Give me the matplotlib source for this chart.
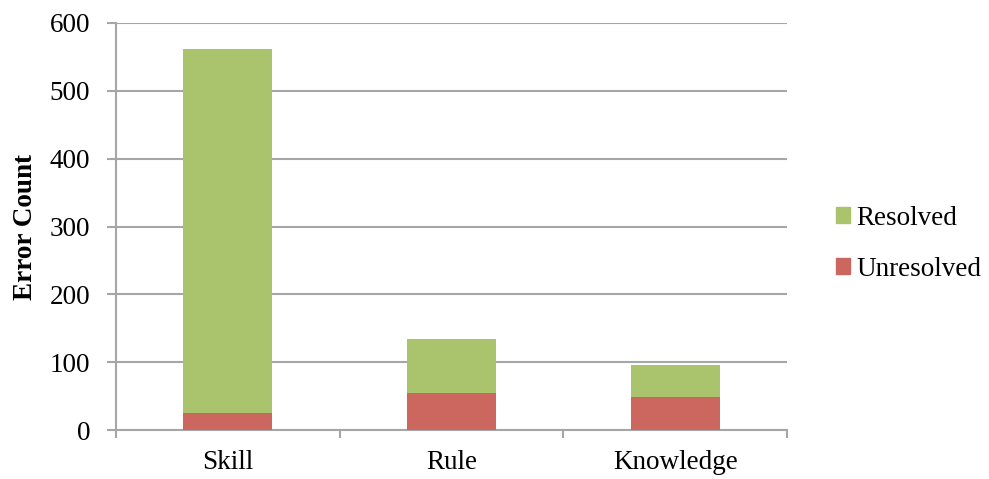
import matplotlib
matplotlib.use("Agg")
import matplotlib.pyplot as plt
from matplotlib.patches import Patch
import numpy as np

categories = ["Skill", "Rule", "Knowledge"]
unresolved = [25, 54, 49]
resolved_total = [561, 134, 96]
resolved = [t - u for t, u in zip(resolved_total, unresolved)]
y_ticks = [0, 100, 200, 300, 400, 500, 600]

green = "#A9C46C"
red = "#CC6760"
grid_gray = "#A6A6A6"
fs = 19.5
legend_fs = 19.5

plt.rcParams["font.family"] = ["Liberation Serif", "DejaVu Serif"]

fig = plt.figure(figsize=(9.89, 4.79), dpi=100)
ax = fig.add_axes([0.117, 0.102, 0.679, 0.850])

x = np.arange(len(categories))
ax.bar(x, unresolved, width=0.4, color=red, zorder=3)
ax.bar(x, resolved, width=0.4, bottom=unresolved, color=green, zorder=3)

ax.set_xlim(-0.5, 2.5)
ax.set_ylim(0, 600)
ax.set_yticks(y_ticks)
ax.set_yticklabels([str(v) for v in y_ticks], fontsize=fs)
ax.yaxis.grid(True, color=grid_gray, linewidth=1.5, zorder=0)
ax.set_axisbelow(True)

# category labels centred, tick marks at category boundaries
ax.set_xticks(np.arange(-0.5, 3.0, 1.0))
ax.set_xticklabels([])
ax.set_xticks(x, minor=True)
ax.set_xticklabels(categories, minor=True, fontsize=fs)
ax.tick_params(axis="x", which="minor", length=0, pad=14)
ax.tick_params(axis="x", which="major", length=5.5, width=1.5, color=grid_gray)
ax.tick_params(axis="y", length=6.5, width=1.5, color=grid_gray, pad=12)

for side in ["top", "right"]:
    ax.spines[side].set_visible(False)
for side in ["left", "bottom"]:
    ax.spines[side].set_color(grid_gray)
    ax.spines[side].set_linewidth(1.5)

ax.set_ylabel("Error Count", fontsize=fs, fontweight="bold", labelpad=8)

handles = [Patch(color=green, label="Resolved"), Patch(color=red, label="Unresolved")]
fig.legend(handles=handles, loc="center left", bbox_to_anchor=(0.821, 0.491),
           frameon=False, fontsize=legend_fs, handlelength=0.52, handleheight=0.52,
           handletextpad=0.22, labelspacing=0.95)

fig.savefig("out.png", dpi=100)
